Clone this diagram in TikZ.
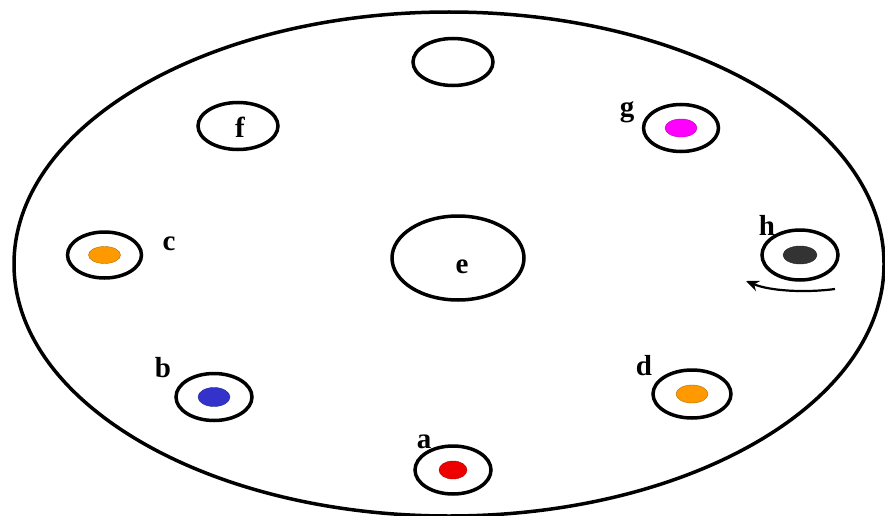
\documentclass[tikz,border=0pt]{standalone}
\usepackage{fontspec}
\setmainfont{Liberation Serif}
\usetikzlibrary{shapes.geometric,arrows.meta}
\definecolor{dotred}{HTML}{EE0000}
\definecolor{dotblue}{HTML}{3333CC}
\definecolor{dotorange}{HTML}{FF9900}
\definecolor{dotmag}{HTML}{FF00FF}
\definecolor{dotdark}{HTML}{333333}
\tikzset{
  ring/.style={draw=black, line width=3.5pt, ellipse, inner sep=0pt, minimum width=76pt, minimum height=47pt},
  dot/.style={ellipse, inner sep=0pt, minimum width=32pt, minimum height=18pt, draw=#1!70!black, line width=0.4pt, fill=#1},
  lbl/.style={font=\fontsize{29}{29}\selectfont\bfseries, inner sep=0pt, anchor=base}
}
\begin{document}
\begin{tikzpicture}[x=1pt,y=-1pt]
\useasboundingbox (0,0) rectangle (885,516);
% plate
\node[draw=black, line width=3.5pt, ellipse, inner sep=0pt, minimum width=870pt, minimum height=504pt] (plate) at (449,264) {};
% top empty hole
\node[ring, minimum width=80pt] (top) at (453,62) {};
% f
\node[ring, minimum width=80pt] (f) at (238,126) {};
\node[lbl] (lf) at (240,137) {f};
% g
\node[ring, minimum width=75pt] (g) at (681,128) {};
\node[dot=dotmag] (gd) at (g.center) {};
\node[lbl] (lg) at (627,117) {g};
% c
\node[ring, minimum width=74pt, minimum height=46pt] (c) at (104.5,255) {};
\node[dot=dotorange, minimum height=17pt] (cd) at (c.center) {};
\node[lbl] (lc) at (169,250) {c};
% e
\node[ring, minimum width=132pt, minimum height=84pt] (e) at (458,258) {};
\node[lbl] (le) at (462,273) {e};
% h
\node[ring, minimum height=50pt] (h) at (800,255) {};
\node[dot=dotdark, minimum width=34pt] (hd) at (h.center) {};
\node[lbl] (lh) at (767,235) {h};
\coordinate (hs) at (835,289);
\coordinate (he) at (746,281);
\draw[line width=2.2pt, -{Stealth[length=13pt,width=11pt]}] (hs) .. controls (805,293) and (770,291) .. (he);
% b
\node[ring] (b) at (214,397) {};
\node[dot=dotblue, minimum height=19pt] (bd) at (b.center) {};
\node[lbl] (lb) at (163,377) {b};
% d
\node[ring, minimum width=78pt, minimum height=48pt] (d) at (692,394) {};
\node[dot=dotorange] (dd) at (d.center) {};
\node[lbl] (ld) at (644,375) {d};
% a
\node[ring, minimum height=48pt] (a) at (453,470) {};
\node[dot=dotred, minimum width=28pt] (ad) at (a.center) {};
\node[lbl] (la) at (424,448) {a};
\end{tikzpicture}
\end{document}
